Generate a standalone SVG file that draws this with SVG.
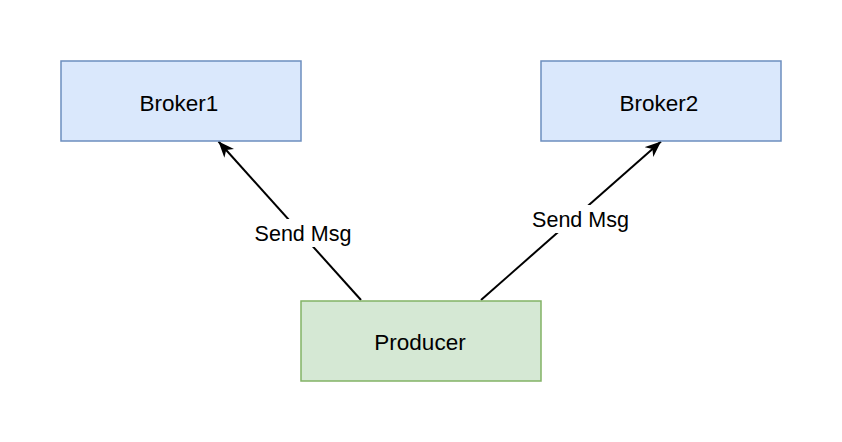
<svg xmlns="http://www.w3.org/2000/svg" width="842" height="442" viewBox="0 0 842 442">
  <style>
    .blue { fill: #dae8fc; stroke: #6c8ebf; stroke-width: 1.5; }
    .green { fill: #d5e8d4; stroke: #82b366; stroke-width: 1.5; }
    .node-text { font-family: "Liberation Sans", Arial, sans-serif; font-size: 22.5px; fill: #000; text-anchor: middle; }
    .label-text { font-family: "Liberation Sans", Arial, sans-serif; font-size: 21.5px; fill: #000; text-anchor: middle; }
    .edge { stroke: #000; stroke-width: 2; fill: none; }
    .label-bg { fill: #fff; stroke: none; }
  </style>
  <defs>
    <marker id="arrow" viewBox="0 0 16 13" refX="16" refY="6.5" markerWidth="16" markerHeight="13" markerUnits="userSpaceOnUse" orient="auto">
      <path d="M0,0 L16,6.5 L0,13 L4.5,6.5 Z" fill="#000"/>
    </marker>
  </defs>
  <rect width="842" height="442" fill="#fff"/>
  <g id="connectors">
    <line class="edge" x1="361" y1="300" x2="218.5" y2="141.5" marker-end="url(#arrow)"/>
    <line class="edge" x1="481" y1="300" x2="661" y2="141.5" marker-end="url(#arrow)"/>
    <g id="label1">
      <rect class="label-bg" x="252" y="219" width="102" height="28"/>
      <text class="label-text" x="303" y="241">Send Msg</text>
    </g>
    <g id="label2">
      <rect class="label-bg" x="529" y="205" width="103" height="28"/>
      <text class="label-text" x="580.5" y="227">Send Msg</text>
    </g>
  </g>
  <g id="broker1">
    <rect class="blue" x="61" y="61" width="240" height="80"/>
    <text class="node-text" x="179" y="111">Broker1</text>
  </g>
  <g id="broker2">
    <rect class="blue" x="541" y="61" width="240" height="80"/>
    <text class="node-text" x="659" y="111">Broker2</text>
  </g>
  <g id="producer">
    <rect class="green" x="301" y="301" width="240" height="80"/>
    <text class="node-text" x="420" y="350">Producer</text>
  </g>
</svg>
